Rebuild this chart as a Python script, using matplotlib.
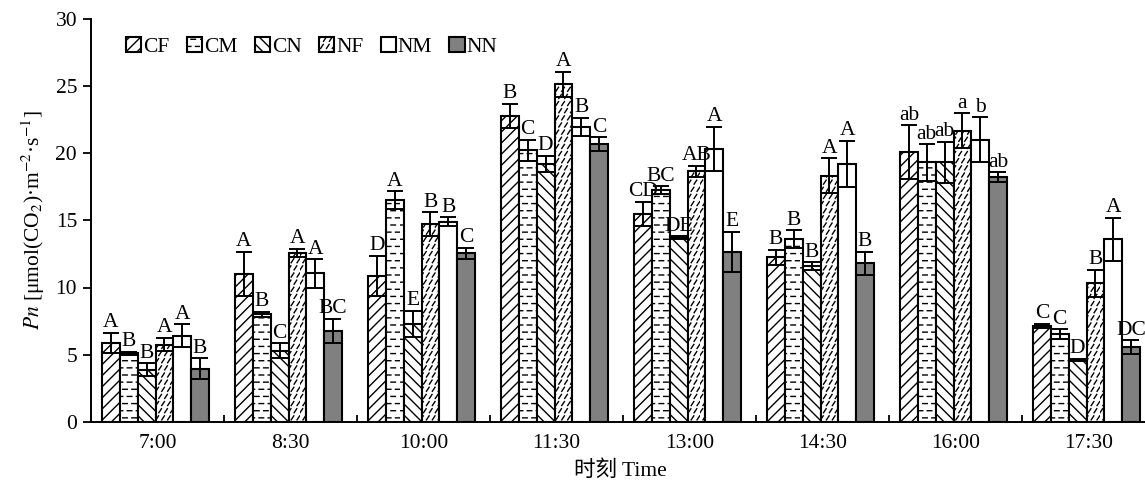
import numpy as np
import matplotlib
matplotlib.use('Agg')
from matplotlib import pyplot as plt
import matplotlib.hatch as mhatch
from matplotlib.path import Path

plt.rcParams['font.family'] = ['Liberation Serif', 'Noto Sans CJK SC']
plt.rcParams['mathtext.fontset'] = 'stix'
plt.rcParams['hatch.linewidth'] = 1.0

times = ['7:00', '8:30', '10:00', '11:30', '13:00', '14:30', '16:00', '17:30']
groups = ['CF', 'CM', 'CN', 'NF', 'NM', 'NN']

CF = [5.9, 11.0, 10.85, 22.75, 15.45, 12.25, 20.05, 7.15]
CM = [5.1, 8.0, 16.5, 20.2, 17.25, 13.6, 19.3, 6.55]
CN = [3.9, 5.3, 7.3, 19.2, 13.7, 11.6, 19.3, 4.6]
NF = [5.75, 12.55, 14.7, 25.1, 18.65, 18.3, 21.65, 10.3]
NM = [6.4, 11.05, 14.9, 21.95, 20.3, 19.2, 21.0, 13.6]
NN = [3.95, 6.75, 12.55, 20.65, 12.65, 11.8, 18.2, 5.55]

CF_err = [0.75, 1.65, 1.5, 0.9, 0.9, 0.55, 2.0, 0.15]
CM_err = [0.1, 0.2, 0.65, 0.8, 0.27, 0.65, 1.35, 0.35]
CN_err = [0.45, 0.55, 0.95, 0.6, 0.1, 0.27, 1.55, 0.08]
NF_err = [0.5, 0.3, 0.9, 0.95, 0.42, 1.3, 1.3, 1.0]
NM_err = [0.85, 1.05, 0.32, 0.65, 1.65, 1.7, 1.65, 1.6]
NN_err = [0.78, 0.9, 0.4, 0.52, 1.5, 0.87, 0.37, 0.52]

CF_sig = ['A', 'A', 'D', 'B', 'CD', 'B', 'ab', 'C']
CM_sig = ['B', 'B', 'A', 'C', 'BC', 'B', 'ab', 'C']
CN_sig = ['B', 'C', 'E', 'D', 'DE', 'B', 'ab', 'D']
NF_sig = ['A', 'A', 'B', 'A', 'AB', 'A', 'a', 'B']
NM_sig = ['A', 'A', 'B', 'B', 'A', 'A', 'b', 'A']
NN_sig = ['B', 'BC', 'C', 'C', 'E', 'B', 'ab', 'DC']


# short staggered dashes for CM ('*') and short slashes for NF ('.')
class DashRows(mhatch.HatchPatternBase):
    rows, cols, frac = 14, 11, 0.5

    def __init__(self, hatch, density):
        self.num_vertices = self.rows * self.cols * 2 if '*' in hatch else 0

    def set_vertices_and_codes(self, vertices, codes):
        k = 0
        for r in range(self.rows):
            y = (r + 0.5) / self.rows
            off = 0.5 if r % 2 else 0.0
            for c in range(self.cols):
                x0 = (c + off) / self.cols
                vertices[k] = (x0, y)
                vertices[k + 1] = (x0 + self.frac / self.cols, y)
                codes[k] = Path.MOVETO
                codes[k + 1] = Path.LINETO
                k += 2


class SlashRows(mhatch.HatchPatternBase):
    rows, cols = 14, 17

    def __init__(self, hatch, density):
        self.num_vertices = self.rows * self.cols * 2 if '.' in hatch else 0

    def set_vertices_and_codes(self, vertices, codes):
        k = 0
        dx = 0.45 / self.cols
        dy = 0.04
        for r in range(self.rows):
            y = (r + 0.5) / self.rows
            off = 0.5 if r % 2 else 0.0
            for c in range(self.cols):
                x0 = (c + off) / self.cols
                vertices[k] = (x0, y - dy / 2)
                vertices[k + 1] = (x0 + dx, y + dy / 2)
                codes[k] = Path.MOVETO
                codes[k + 1] = Path.LINETO
                k += 2


mhatch._hatch_types = [t for t in mhatch._hatch_types
                       if t not in (mhatch.Stars, mhatch.SmallFilledCircles)] + [DashRows, SlashRows]

values = [CF, CM, CN, NF, NM, NN]
errors = [CF_err, CM_err, CN_err, NF_err, NM_err, NN_err]
sigs = [CF_sig, CM_sig, CN_sig, NF_sig, NM_sig, NN_sig]
hatches = ['///', '*', '\\\\\\', '.', '', '']
faces = ['white', 'white', 'white', 'white', 'white', '#808080']

fs = 15.5
fig = plt.figure(figsize=(11.45, 4.84), dpi=100)
ax = fig.add_axes([91 / 1145, 62 / 484, 1064 / 1145, 403.5 / 484])

x = np.arange(len(times))
w = 0.134
shift = -0.015
for j, name in enumerate(groups):
    xs = x + shift + (j - 2.5) * w
    ax.bar(xs, values[j], w, color=faces[j], edgecolor='black', linewidth=1.5,
           hatch=hatches[j], label=name, zorder=2)
    ax.errorbar(xs, values[j], yerr=errors[j], fmt='none', ecolor='black',
                elinewidth=1.4, capsize=5.5, capthick=1.4, zorder=3)
    for xi, v, e, s in zip(xs, values[j], errors[j], sigs[j]):
        ax.text(xi, v + e + 0.05, s, ha='center', va='bottom', fontsize=fs, zorder=4)

ax.set_xlim(-0.5, len(times) - 0.5)
ax.set_ylim(0, 30)
ax.set_yticks(range(0, 31, 5))
ax.set_xticks(x[1:] - 0.5)
ax.set_xticklabels([])
ax.set_xticks(x, times, minor=True)
ax.tick_params(axis='x', which='major', direction='in', length=5, width=1.3)
ax.tick_params(axis='x', which='minor', length=0, pad=9, labelsize=fs)
ax.tick_params(axis='y', direction='out', length=6, width=1.3, labelsize=fs, pad=4)
for side in ['top', 'right']:
    ax.spines[side].set_visible(False)
for side in ['left', 'bottom']:
    ax.spines[side].set_linewidth(1.4)

ax.set_ylabel(r'$Pn$ [μmol(CO$_2$)·m$^{-2}$·s$^{-1}$]', fontsize=fs, labelpad=6)
ax.set_xlabel('时刻 Time', fontsize=fs)
ax.xaxis.set_label_coords(529 / 1064, -0.095)

ax.legend(loc='upper left', bbox_to_anchor=(0.025, 0.975), ncol=6, frameon=False,
          fontsize=fs, handlelength=0.7, handleheight=0.7, handletextpad=0.1,
          columnspacing=0.8, borderaxespad=0)

fig.savefig('out.png', dpi=100)
